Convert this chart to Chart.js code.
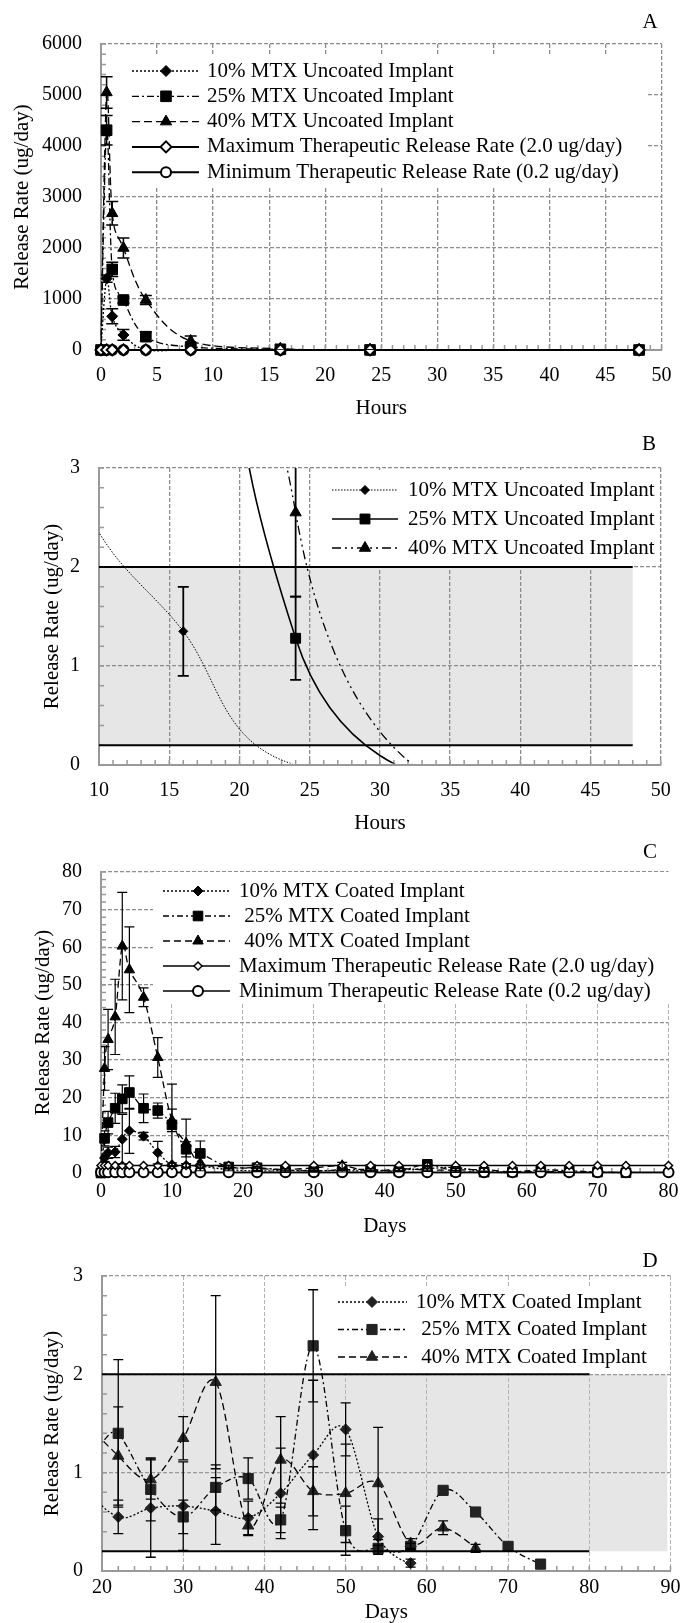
<!DOCTYPE html>
<html>
<head>
<meta charset="utf-8">
<script src="https://cdn.jsdelivr.net/npm/chart.js@4.4.1/dist/chart.umd.min.js"></script>
<style>
  body { margin: 0; background: #fff; }
  canvas { position: absolute; left: 0; }
</style>
</head>
<body>
<canvas id="chartA" style="top:0px" width="687" height="430"></canvas>
<canvas id="chartB" style="top:430px" width="687" height="410"></canvas>
<canvas id="chartC" style="top:840px" width="687" height="400"></canvas>
<canvas id="chartD" style="top:1240px" width="687" height="383"></canvas>
<script>
// values
const hours = [0, 0.5, 1, 2, 4, 8, 16, 24, 48];
const unc10 = [0, 1400, 660, 295, 7, 3, 1.35, 0, 0];
const unc10Err = [0, 70, 147, 105, 0, 0, 0.45, 0, 0];
const unc25 = [0, 4310, 1580, 980, 261, 60, 14, 1.28, 0];
const unc25Err = [0, 290, 140, 60, 90, 0, 0, 0.42, 0];
const unc40 = [0, 5050, 2680, 2000, 980, 176, 25.8, 2.55, 0];
const unc40Err = [0, 310, 230, 195, 90, 100, 0, 0.85, 0];
const maxHours = [2, 2, 2, 2, 2, 2, 2, 2, 2];
const minHours = [0.2, 0.2, 0.2, 0.2, 0.2, 0.2, 0.2, 0.2, 0.2];

const days10 = [0, 0.5, 1, 2, 3, 4, 6, 8, 10, 12, 14, 18, 22, 26, 30, 34, 38, 42, 46, 50, 54, 58];
const coat10 = [0, 4.0, 5.4, 5.6, 9.0, 11.2, 9.8, 5.4, 2.2, 2.0, 1.8, 0.9, 0.55, 0.64, 0.66, 0.61, 0.54, 0.79, 1.18, 1.44, 0.35, 0.08];
const coat10Err = [0, 1.0, 1.5, 1.5, 6.6, 6.0, 1.0, 3.0, 0.5, 0.5, 0.5, 0.3, 0.17, 0.5, 0.45, 0.34, 0.17, 0.46, 0.76, 0.27, 0.18, 0.04];
const days25 = [0, 0.5, 1, 2, 3, 4, 6, 8, 10, 12, 14, 18, 22, 26, 30, 34, 38, 42, 46, 50, 54, 58, 62, 66, 70, 74];
const coat25 = [0, 9.2, 13.4, 17.2, 19.7, 21.4, 17.2, 16.6, 12.8, 6.3, 5.2, 1.6, 1.40, 0.83, 0.55, 0.85, 0.94, 0.52, 2.29, 0.41, 0.23, 0.25, 0.82, 0.60, 0.25, 0.07];
const coat25Err = [0, 2.0, 3.0, 4.0, 3.7, 4.4, 3.8, 2.0, 10.8, 2.0, 3.3, 0.3, 0.75, 0.32, 0.17, 0.23, 0.21, 0.13, 0.57, 0.25, 0.03, 0.03, 0, 0, 0, 0];
const days40 = [0, 0.5, 1, 2, 3, 4, 6, 8, 10, 12, 14, 18, 22, 26, 30, 34, 38, 42, 46, 50, 54, 58, 62, 66];
const coat40 = [0, 27.8, 35.5, 41.5, 60.3, 54.0, 46.7, 30.7, 14.0, 7.9, 2.6, 1.6, 1.17, 0.93, 1.35, 1.92, 0.46, 1.13, 0.81, 0.79, 0.89, 0.28, 0.44, 0.23];
const coat40Err = [0, 5.8, 8.0, 10.0, 14.3, 11.4, 2.5, 5.3, 3.0, 6.4, 2.0, 0.5, 0.5, 0.2, 0.22, 0.88, 0.1, 0.44, 0.25, 0.5, 0.57, 0.05, 0.07, 0.04];
const daysT = [0, 0.5, 1, 2, 3, 4, 6, 8, 10, 12, 14, 18, 22, 26, 30, 34, 38, 42, 46, 50, 54, 58, 62, 66, 70, 74, 80];
const maxDays = [2, 2, 2, 2, 2, 2, 2, 2, 2, 2, 2, 2, 2, 2, 2, 2, 2, 2, 2, 2, 2, 2, 2, 2, 2, 2, 2];
const minDays = [0.2, 0.2, 0.2, 0.2, 0.2, 0.2, 0.2, 0.2, 0.2, 0.2, 0.2, 0.2, 0.2, 0.2, 0.2, 0.2, 0.2, 0.2, 0.2, 0.2, 0.2, 0.2, 0.2, 0.2, 0.2, 0.2, 0.2];
const maxRate = 2.0;
const minRate = 0.2;

const uncLabels = ['10% MTX Uncoated Implant', '25% MTX Uncoated Implant', '40% MTX Uncoated Implant'];
const coatLabels = ['10% MTX Coated Implant', ' 25% MTX Coated Implant', ' 40% MTX Coated Implant'];
const rateLabels = ['Maximum Therapeutic Release Rate (2.0 ug/day)', 'Minimum Therapeutic Release Rate (0.2 ug/day)'];

const yTitle = 'Release Rate (ug/day)';
const FONT = '"Liberation Serif", "Times New Roman", serif';
Chart.defaults.font.family = FONT;
Chart.defaults.color = '#000';

const pts = (xs, ys) => xs.map((x, i) => ({ x: x, y: ys[i] }));

// Excel style smoothing: catmull-rom tangents on the pixel points,
// flat arms at both ends of a series
const excelSmooth = {
  id: 'excelSmooth',
  beforeDatasetDraw(chart, args) {
    const line = args.meta.dataset;
    if (!line || !line.options.tension) return;
    line.updateControlPoints(chart.chartArea, 'x');
    const p = line.points;
    const n = p.length;
    for (let i = 0; i < n; i++) {
      let dx = 0, dy = 0;
      if (i > 0 && i < n - 1) {
        dx = (p[i + 1].x - p[i - 1].x) / 6;
        dy = (p[i + 1].y - p[i - 1].y) / 6;
      }
      p[i].cp1x = p[i].x - dx; p[i].cp1y = p[i].y - dy;
      p[i].cp2x = p[i].x + dx; p[i].cp2y = p[i].y + dy;
    }
  }
};

const band = {
  id: 'band',
  beforeDraw(chart, args, o) {
    if (o.x1 === undefined) return;
    const { ctx, scales: { x, y } } = chart;
    const l = x.getPixelForValue(o.x0), r = x.getPixelForValue(o.x1);
    const t = y.getPixelForValue(o.y1), b = y.getPixelForValue(o.y0);
    ctx.save();
    ctx.fillStyle = '#e6e6e6';
    ctx.fillRect(l, t, r - l, b - t);
    ctx.restore();
  }
};

const sketchLegend = {
  id: 'sketchLegend',
  beforeDatasetsDraw(chart, args, o) {
    if (!o.box) return;
    const ctx = chart.ctx;
    ctx.save();
    ctx.fillStyle = '#fff';
    ctx.fillRect(o.box.l, o.box.t, o.box.r - o.box.l, o.box.b - o.box.t);
    ctx.restore();
  },
  afterDraw(chart, args, o) {
    if (!o.box) return;
    const ctx = chart.ctx;
    let row = 0;
    chart.data.datasets.forEach(ds => {
      if (!ds.label) return;
      const y = o.y0 + row * o.gap;
      row++;
      ctx.save();
      ctx.strokeStyle = ds.borderColor;
      ctx.lineWidth = ds.borderWidth;
      ctx.setLineDash(ds.borderDash || []);
      ctx.beginPath();
      ctx.moveTo(o.lineL, y);
      ctx.lineTo(o.lineR, y);
      ctx.stroke();
      ctx.setLineDash([]);
      ctx.fillStyle = ds.pointBackgroundColor;
      ctx.strokeStyle = ds.pointBorderColor;
      ctx.lineWidth = ds.pointBorderWidth;
      Chart.helpers.drawPoint(ctx, { pointStyle: ds.pointStyle, radius: ds.markerR, borderWidth: ds.pointBorderWidth, rotation: 0 }, o.mark, y);
      ctx.fillStyle = '#000';
      ctx.font = '21px ' + FONT;
      ctx.textBaseline = 'middle';
      ctx.textAlign = 'left';
      ctx.fillText(ds.label, o.text, y);
      ctx.restore();
    });
  }
};

const minorTicks = {
  id: 'minorTicks',
  beforeDatasetsDraw(chart, args, o) {
    if (!o.x) return;
    const { ctx, scales: { x, y } } = chart;
    ctx.save();
    ctx.strokeStyle = '#999';
    ctx.lineWidth = 1.5;
    ctx.beginPath();
    for (let k = 0; x.min + k * o.x <= x.max + 1e-9; k++) {
      const px = x.getPixelForValue(x.min + k * o.x);
      ctx.moveTo(px, y.bottom);
      ctx.lineTo(px, y.bottom - 5);
    }
    for (let k = 0; y.min + k * o.y <= y.max + 1e-9; k++) {
      const py = y.getPixelForValue(y.min + k * o.y);
      ctx.moveTo(x.left, py);
      ctx.lineTo(x.left + 5, py);
    }
    ctx.stroke();
    ctx.restore();
  }
};

const errorBars = {
  id: 'errorBars',
  afterDatasetsDraw(chart, args, o) {
    const { ctx, chartArea: a, scales: { x, y } } = chart;
    const cap = o.cap || 5;
    ctx.save();
    ctx.beginPath();
    ctx.rect(a.left, a.top, a.right - a.left, a.bottom - a.top);
    ctx.clip();
    ctx.strokeStyle = '#000';
    ctx.lineWidth = o.width || 1.5;
    chart.data.datasets.forEach(ds => {
      if (!ds.errors) return;
      ds.data.forEach((p, j) => {
        const e = ds.errors[j];
        if (!e) return;
        const px = x.getPixelForValue(p.x);
        const top = y.getPixelForValue(p.y + e), bot = y.getPixelForValue(p.y - e);
        ctx.beginPath();
        ctx.moveTo(px, top); ctx.lineTo(px, bot);
        ctx.moveTo(px - cap, top); ctx.lineTo(px + cap, top);
        ctx.moveTo(px - cap, bot); ctx.lineTo(px + cap, bot);
        ctx.stroke();
      });
    });
    ctx.restore();
  }
};

const panelLetter = {
  id: 'panelLetter',
  afterDraw(chart, args, o) {
    if (!o.text) return;
    const ctx = chart.ctx;
    ctx.save();
    ctx.fillStyle = '#000';
    ctx.font = '21px ' + FONT;
    ctx.textAlign = 'center';
    ctx.textBaseline = 'alphabetic';
    ctx.fillText(o.text, o.x, o.y);
    ctx.restore();
  }
};

function xAxis(min, max, step, title, tickPad, titlePad, height, gridColor, gridWidth) {
  return {
    type: 'linear', min: min, max: max,
    ticks: { stepSize: step, padding: tickPad, autoSkip: false, maxRotation: 0, color: '#000', font: { size: 20, lineHeight: 1 } },
    grid: { color: gridColor, lineWidth: gridWidth, drawTicks: false },
    border: { display: true, color: '#999', width: 2, dash: [4, 2] },
    title: { display: true, text: title, color: '#000', font: { size: 21, lineHeight: 1 }, padding: { top: 0, bottom: titlePad } },
    afterFit: s => { s.height = height; }
  };
}

function yAxis(min, max, step, titlePad, width, gridColor, gridWidth) {
  return {
    type: 'linear', min: min, max: max,
    ticks: { stepSize: step, padding: 19, color: '#000', font: { size: 20, lineHeight: 1 }, callback: v => String(v) },
    grid: { color: gridColor, lineWidth: gridWidth, drawTicks: false },
    border: { display: true, color: '#999', width: 2, dash: [4, 2] },
    title: { display: true, text: yTitle, color: '#000', font: { size: 21, lineHeight: 1 }, padding: { top: titlePad, bottom: 0 } },
    afterFit: s => { s.width = width; }
  };
}

function series(label, xs, ys, errs, style) {
  return Object.assign({
    label: label, data: pts(xs, ys), errors: errs,
    borderColor: '#000', borderWidth: 1.3, tension: 0.4,
    pointBackgroundColor: '#000', pointBorderColor: '#000', pointBorderWidth: 1,
    pointRadius: style.markerR, order: 1
  }, style);
}

function rateLine(label, xs, ys, style) {
  return Object.assign({
    label: label, data: pts(xs, ys),
    borderColor: '#000', borderWidth: 2, tension: 0,
    pointBackgroundColor: '#fff', pointBorderColor: '#000', pointBorderWidth: 2,
    pointRadius: style.markerR, order: 0
  }, style);
}

function panel(id, cfg) {
  return new Chart(document.getElementById(id), {
    type: 'line',
    data: { datasets: cfg.datasets },
    options: {
      responsive: false,
      animation: false,
      events: [],
      layout: { padding: { top: cfg.top, right: 14, bottom: 0, left: 0 } },
      scales: { x: cfg.x, y: cfg.y },
      plugins: {
        legend: { display: false },
        tooltip: { enabled: false },
        band: cfg.band || {},
        sketchLegend: cfg.legend,
        minorTicks: cfg.minor,
        errorBars: cfg.err,
        panelLetter: cfg.letter
      }
    },
    plugins: [excelSmooth, band, sketchLegend, minorTicks, errorBars, panelLetter]
  });
}

const clipA = { left: 8, right: 8, top: 0, bottom: 8 };

// A
panel('chartA', {
  top: 44,
  x: xAxis(0, 50, 5, 'Hours', 15.5, 11.5, 80, '#8c8c8c', 1.3),
  y: yAxis(0, 6000, 1000, 11.5, 101, '#8c8c8c', 1.3),
  datasets: [
    series(uncLabels[0], hours, unc10, unc10Err, { borderDash: [2, 2], pointStyle: 'rectRot', markerR: 5.5, clip: clipA }),
    series(uncLabels[1], hours, unc25, unc25Err, { borderDash: [7, 3, 2, 3], pointStyle: 'rect', markerR: 7.5, clip: clipA }),
    series(uncLabels[2], hours, unc40, unc40Err, { borderDash: [8, 4], pointStyle: 'triangle', markerR: 6.5, clip: clipA }),
    rateLine(rateLabels[0], hours, maxHours, { pointStyle: 'rectRot', markerR: 5.5, clip: clipA }),
    rateLine(rateLabels[1], hours, minHours, { pointStyle: 'circle', markerR: 5, clip: clipA })
  ],
  legend: { box: { l: 103, t: 55, r: 648, b: 188 }, y0: 71, gap: 25.3, lineL: 132, lineR: 199, mark: 166, text: 207 },
  minor: { x: 1, y: 200 },
  err: { cap: 6, width: 1.5 },
  letter: { text: 'A', x: 650, y: 28 }
});

// B
const hideOut = r => c => (c.raw && c.raw.y > 0 ? r : 0);
const clipB = { left: 0, right: 0, top: 0, bottom: -1.5 };
panel('chartB', {
  top: 38,
  x: xAxis(10, 50, 5, 'Hours', 16.2, 5.8, 75, '#8c8c8c', 1.3),
  y: yAxis(0, 3, 1, 41.5, 99, '#8c8c8c', 1.3),
  datasets: [
    series(uncLabels[0], hours, unc10, unc10Err, { borderDash: [1.5, 1.5], borderWidth: 1, pointStyle: 'rectRot', markerR: 4.5, pointRadius: hideOut(4.5), clip: clipB }),
    series(uncLabels[1], hours, unc25, unc25Err, { borderDash: [], borderWidth: 1.6, pointStyle: 'rect', markerR: 7, pointRadius: hideOut(7), clip: clipB }),
    series(uncLabels[2], hours, unc40, unc40Err, { borderDash: [9, 4, 2, 4, 2, 4], pointStyle: 'triangle', markerR: 6.5, pointRadius: hideOut(6.5), clip: clipB }),
    rateLine(undefined, hours, maxHours, { markerR: 0, clip: 0 }),
    rateLine(undefined, hours, minHours, { markerR: 0, clip: 0 })
  ],
  band: { x0: 10, x1: 48, y0: minRate, y1: maxRate },
  legend: { box: { l: 325, t: 40, r: 660, b: 136 }, y0: 60, gap: 29, lineL: 332, lineR: 398, mark: 365, text: 408 },
  minor: { x: 1, y: 0.2 },
  err: { cap: 5.5, width: 1.8 },
  letter: { text: 'B', x: 649, y: 20 }
});

// C
panel('chartC', {
  top: 32,
  x: xAxis(0, 80, 10, 'Days', 8.5, 3.5, 67, '#b3b3b3', 1),
  y: yAxis(0, 80, 10, 32.5, 101, '#8c8c8c', 1.3),
  datasets: [
    series(coatLabels[0], days10, coat10, coat10Err, { borderDash: [2, 2], pointStyle: 'rectRot', markerR: 5, clip: clipA }),
    series(coatLabels[1], days25, coat25, coat25Err, { borderDash: [6, 3, 2, 3], pointStyle: 'rect', markerR: 6.8, clip: clipA }),
    series(coatLabels[2], days40, coat40, coat40Err, { borderDash: [7, 4], pointStyle: 'triangle', markerR: 6, clip: clipA }),
    rateLine(rateLabels[0], daysT, maxDays, { borderWidth: 1.5, pointStyle: 'rectRot', markerR: 4, pointBorderWidth: 1.5, clip: clipA }),
    rateLine(rateLabels[1], daysT, minDays, { borderWidth: 1.5, pointStyle: 'circle', markerR: 5, clip: clipA })
  ],
  legend: { box: { l: 153, t: 32, r: 670, b: 162 }, y0: 51, gap: 25, lineL: 163, lineR: 230, mark: 198, text: 239 },
  minor: { x: 2, y: 2 },
  err: { cap: 5, width: 1.2 },
  letter: { text: 'C', x: 650, y: 18 }
});

// D
const clipD = { left: 0, right: 0, top: 0, bottom: 2 };
panel('chartD', {
  top: 36,
  x: xAxis(20, 90, 10, 'Days', 6.5, 0.5, 52, '#b3b3b3', 1),
  y: yAxis(0, 3, 1, 41.5, 102, '#999', 1.2),
  datasets: [
    series(coatLabels[0], days10, coat10, coat10Err, { borderDash: [2, 2], pointStyle: 'rectRot', markerR: 5.5, pointBackgroundColor: '#222', pointBorderColor: '#222', clip: clipD }),
    series(coatLabels[1], days25, coat25, coat25Err, { borderDash: [6, 3, 2, 3], pointStyle: 'rect', markerR: 7.2, pointBackgroundColor: '#222', pointBorderColor: '#222', clip: clipD }),
    series(coatLabels[2], days40, coat40, coat40Err, { borderDash: [7, 4], pointStyle: 'triangle', markerR: 6.5, pointBackgroundColor: '#222', pointBorderColor: '#222', clip: clipD }),
    rateLine(undefined, daysT, maxDays, { markerR: 0, clip: clipD }),
    rateLine(undefined, daysT, minDays, { markerR: 0, clip: clipD })
  ],
  band: { x0: 20, x1: 89.6, y0: minRate, y1: maxRate },
  legend: { box: { l: 335, t: 48, r: 665, b: 133 }, y0: 62, gap: 27.5, lineL: 338, lineR: 407, mark: 372, text: 416 },
  minor: { x: 2, y: 0.2 },
  err: { cap: 5, width: 1.3 },
  letter: { text: 'D', x: 650, y: 27 }
});
</script>
</body>
</html>
